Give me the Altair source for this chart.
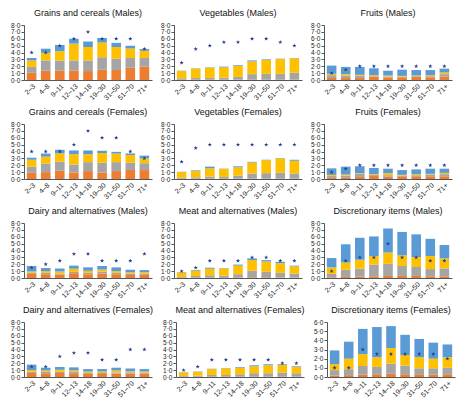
import altair as alt
import pandas as pd

ages = ["2–3", "4–8", "9–11", "12–13", "14–18", "19–30", "31–50", "51–70", "71+"]
segments = ["s1", "s2", "s3", "s4"]
seg_colors = ["#ED7D31", "#A5A5A5", "#FFC000", "#5B9BD5"]

# cumulative tops of stacked segments (orange, grey, yellow, blue) and recommended serves (stars)
grains_m_tops = [
    [1.05, 1.35, 1.35, 1.4, 1.3, 1.5, 1.45, 1.8, 1.95],
    [1.9, 2.85, 2.85, 2.85, 2.85, 3.3, 3.1, 3.2, 3.2],
    [2.85, 3.95, 4.2, 5.3, 4.8, 5.45, 4.8, 4.6, 4.25],
    [3.2, 4.55, 5.1, 6.0, 5.6, 6.1, 5.4, 5.0, 4.5],
]
grains_m_star = [4, 4, 5, 6, 7, 6, 6, 6, 4.5]

veg_m_tops = [
    [0.05, 0.05, 0.05, 0.05, 0.05, 0.05, 0.05, 0.05, 0.05],
    [0.25, 0.3, 0.3, 0.35, 0.45, 0.85, 0.9, 0.9, 1.05],
    [1.3, 1.65, 1.8, 1.85, 2.05, 2.7, 2.9, 3.05, 3.15],
    [1.35, 1.7, 1.85, 1.95, 2.15, 2.85, 3.0, 3.1, 3.2],
]
veg_m_star = [2.5, 4.5, 5, 5.5, 5.5, 6, 6, 5.5, 5]

fruit_m_tops = [
    [0.3, 0.3, 0.3, 0.45, 0.35, 0.4, 0.45, 0.4, 0.5],
    [0.7, 0.65, 0.6, 0.55, 0.5, 0.5, 0.55, 0.55, 0.85],
    [0.9, 0.85, 0.75, 0.7, 0.65, 0.6, 0.65, 0.7, 1.1],
    [2.1, 1.9, 1.9, 1.7, 1.35, 1.5, 1.45, 1.45, 1.65],
]
fruit_m_star = [1, 1.5, 2, 2, 2, 2, 2, 2, 2]

grains_f_tops = [
    [0.9, 1.0, 1.2, 0.95, 1.15, 0.95, 1.15, 1.3, 1.3],
    [1.8, 2.25, 2.5, 2.1, 2.45, 2.35, 2.45, 2.35, 2.3],
    [2.8, 3.25, 3.7, 3.6, 3.6, 3.8, 3.7, 3.5, 3.0],
    [3.1, 3.7, 4.25, 4.15, 4.15, 4.1, 3.95, 3.7, 3.4],
]
grains_f_star = [4, 4, 4, 5, 7, 6, 6, 4, 3]

veg_f_tops = [
    [0.05, 0.05, 0.05, 0.05, 0.05, 0.05, 0.05, 0.05, 0.05],
    [0.2, 0.25, 0.35, 0.3, 0.5, 0.8, 0.85, 0.9, 0.8],
    [1.0, 1.15, 1.55, 1.45, 1.7, 2.4, 2.75, 3.0, 2.65],
    [1.05, 1.25, 1.8, 1.5, 1.85, 2.5, 2.8, 3.05, 2.8],
]
veg_f_star = [2.5, 4.5, 5, 5, 5, 5, 5, 5, 5]

fruit_f_tops = [
    [0.25, 0.25, 0.3, 0.55, 0.35, 0.4, 0.4, 0.4, 0.4],
    [0.45, 0.5, 0.75, 0.6, 0.55, 0.5, 0.55, 0.65, 0.7],
    [0.6, 0.65, 0.85, 0.7, 0.85, 0.6, 0.7, 0.75, 0.9],
    [1.55, 1.8, 1.85, 1.6, 1.5, 1.3, 1.4, 1.5, 1.5],
]
fruit_f_star = [1, 1.5, 2, 2, 2, 2, 2, 2, 2]

dairy_m_tops = [
    [0.6, 0.55, 0.5, 0.7, 0.55, 0.65, 0.55, 0.45, 0.45],
    [0.75, 0.75, 0.65, 0.9, 0.75, 0.95, 0.75, 0.65, 0.65],
    [0.95, 1.0, 0.95, 1.35, 1.05, 1.25, 1.0, 0.85, 0.85],
    [1.75, 1.45, 1.4, 1.8, 1.55, 1.75, 1.55, 1.2, 1.15],
]
dairy_m_star = [1.5, 2, 2.5, 3.5, 3.5, 2.5, 2.5, 2.5, 3.5]

meat_m_tops = [
    [0.05, 0.05, 0.05, 0.05, 0.05, 0.1, 0.1, 0.05, 0.05],
    [0.15, 0.3, 0.4, 0.35, 0.55, 1.05, 0.9, 0.75, 0.65],
    [0.8, 1.05, 1.35, 1.4, 1.8, 2.6, 2.4, 2.15, 1.7],
    [0.85, 1.15, 1.5, 1.45, 1.95, 2.85, 2.6, 2.35, 1.8],
]
meat_m_star = [1, 1.5, 2.5, 2.5, 2.5, 3, 3, 2.5, 2.5]

disc_m_tops = [
    [0.1, 0.15, 0.2, 0.25, 0.3, 0.3, 0.3, 0.25, 0.25],
    [0.6, 1.2, 1.35, 1.95, 2.05, 1.75, 1.6, 1.3, 1.4],
    [1.55, 2.25, 2.65, 3.2, 3.7, 3.3, 3.05, 3.2, 2.85],
    [2.9, 4.9, 5.85, 6.05, 7.2, 6.7, 6.35, 5.7, 4.8],
]
disc_m_star = [1, 2.5, 3, 3, 5, 3, 3, 2.5, 2.5]

dairy_f_tops = [
    [0.6, 0.55, 0.6, 0.55, 0.45, 0.45, 0.5, 0.5, 0.5],
    [0.75, 0.75, 0.75, 0.75, 0.6, 0.6, 0.65, 0.7, 0.65],
    [1.0, 0.95, 1.05, 0.95, 0.8, 0.8, 0.95, 0.85, 0.8],
    [1.8, 1.35, 1.45, 1.4, 1.15, 1.15, 1.35, 1.25, 1.15],
]
dairy_f_star = [1.5, 1.5, 3, 3.5, 3.5, 2.5, 2.5, 4, 4]

meat_f_tops = [
    [0.05, 0.05, 0.05, 0.05, 0.05, 0.05, 0.05, 0.05, 0.05],
    [0.15, 0.2, 0.3, 0.3, 0.4, 0.55, 0.55, 0.65, 0.55],
    [0.65, 0.75, 1.15, 1.25, 1.35, 1.55, 1.7, 1.75, 1.45],
    [0.7, 0.8, 1.2, 1.3, 1.45, 1.7, 1.85, 1.85, 1.55],
]
meat_f_star = [1, 1.5, 2.5, 2.5, 2.5, 2.5, 2.5, 2, 2]

disc_f_tops = [
    [0.15, 0.2, 0.25, 0.3, 0.35, 0.3, 0.3, 0.25, 0.3],
    [0.75, 0.85, 1.2, 1.1, 1.45, 1.25, 0.95, 0.95, 1.0],
    [1.4, 2.0, 2.5, 2.15, 3.15, 2.4, 2.15, 2.0, 2.15],
    [2.9, 3.85, 5.25, 5.45, 5.55, 4.6, 4.15, 3.75, 3.55],
]
disc_f_star = [1, 1, 3, 2.5, 2.5, 2.5, 2.5, 2.5, 2]

FONT = "Liberation Sans"
W, H = 128, 55
STAR_COLOR = "#24408E"
STAR_PATH = ("M0,-1L0.235,-0.324L0.951,-0.309L0.38,0.124L0.588,0.809L0,0.4"
             "L-0.588,0.809L-0.38,0.124L-0.951,-0.309L-0.235,-0.324Z")


def panel(title, tops, stars, ymax):
    rows = []
    for s_i, seg in enumerate(segments):
        for a_i, age in enumerate(ages):
            lo = tops[s_i - 1][a_i] if s_i > 0 else 0.0
            rows.append({"age": age, "seg": seg, "lo": lo, "hi": tops[s_i][a_i]})
    df = pd.DataFrame(rows)
    sdf = pd.DataFrame({"age": ages, "lo": stars})
    x_axis = alt.Axis(labelAngle=-45, labelFontSize=7, labelFont=FONT, labelColor="#222",
                      ticks=False, domainColor="#555", labelPadding=2, labelOverlap=False)
    y_axis = alt.Axis(values=list(range(0, ymax + 1)), grid=False, labelFontSize=6.5, labelFont=FONT,
                      labelColor="#222", tickSize=3, tickColor="#555", domainColor="#555",
                      labelPadding=1, labelOverlap=False, labelFlush=False, labelBound=False,
                      labelExpr="datum.value + '·0'")
    xscale = alt.Scale(paddingInner=0.32, paddingOuter=0.2)
    yscale = alt.Scale(domain=[0, ymax], nice=False)
    bars = alt.Chart(df).mark_bar().encode(
        x=alt.X("age:N", sort=ages, title=None, scale=xscale, axis=x_axis),
        y=alt.Y("lo:Q", title=None, scale=yscale, axis=y_axis),
        y2="hi:Q",
        color=alt.Color("seg:N", scale=alt.Scale(domain=segments, range=seg_colors), legend=None),
    )
    pts = alt.Chart(sdf).mark_point(
        shape=STAR_PATH, filled=True, size=20, color=STAR_COLOR, opacity=1
    ).encode(
        x=alt.X("age:N", sort=ages, title=None, scale=xscale, axis=x_axis),
        y=alt.Y("lo:Q", title=None, scale=yscale, axis=y_axis),
    )
    return alt.layer(bars, pts).properties(
        width=W, height=H,
        title=alt.TitleParams(title, fontSize=9, font=FONT, fontWeight=400, color="#111",
                              anchor="middle", offset=4),
    )


row1 = alt.hconcat(
    panel("Grains and cereals (Males)", grains_m_tops, grains_m_star, 8),
    panel("Vegetables (Males)", veg_m_tops, veg_m_star, 8),
    panel("Fruits (Males)", fruit_m_tops, fruit_m_star, 8),
    spacing=8,
)
row2 = alt.hconcat(
    panel("Grains and cereals (Females)", grains_f_tops, grains_f_star, 8),
    panel("Vegetables (Females)", veg_f_tops, veg_f_star, 8),
    panel("Fruits (Females)", fruit_f_tops, fruit_f_star, 8),
    spacing=8,
)
row3 = alt.hconcat(
    panel("Dairy and alternatives (Males)", dairy_m_tops, dairy_m_star, 8),
    panel("Meat and alternatives (Males)", meat_m_tops, meat_m_star, 8),
    panel("Discretionary items (Males)", disc_m_tops, disc_m_star, 8),
    spacing=8,
)
row4 = alt.hconcat(
    panel("Dairy and alternatives (Females)", dairy_f_tops, dairy_f_star, 8),
    panel("Meat and alternatives (Females)", meat_f_tops, meat_f_star, 8),
    panel("Discretionary items (Females)", disc_f_tops, disc_f_star, 6),
    spacing=8,
)

chart = alt.vconcat(row1, row2, row3, row4, spacing=7).configure_view(strokeWidth=0).properties(
    padding={"left": 2, "right": 2, "top": 1, "bottom": 1}
)

chart.save("out.html", embed_options={"renderer": "svg", "actions": False})
